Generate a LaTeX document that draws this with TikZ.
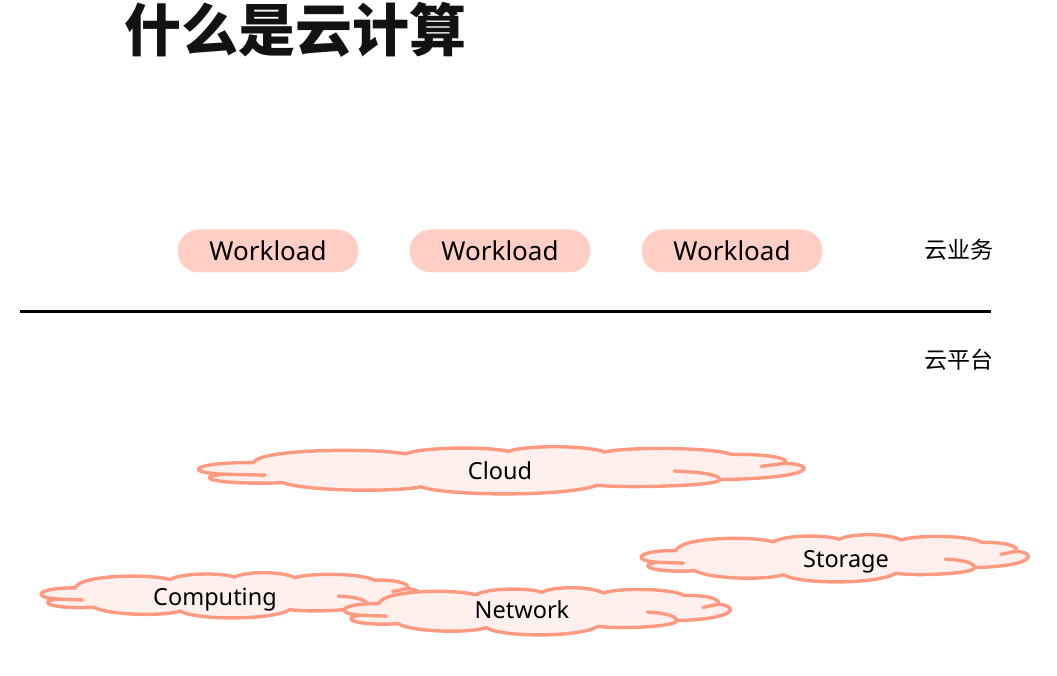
\documentclass[tikz,border=0pt]{standalone}
\usepackage{fontspec}
\setmainfont{Noto Sans}
\newfontfamily\cjk{Noto Sans CJK SC}
\definecolor{cloudline}{HTML}{FF9980}
\definecolor{cloudfill}{HTML}{FFF0EE}
\definecolor{pillfill}{HTML}{FFCEC4}
\tikzset{
  cloudstroke/.style={draw=cloudline, line width=3.4pt, line join=round, line cap=round},
  pill/.style={rectangle, rounded corners=21.5pt, minimum width=181pt, minimum height=43pt, inner sep=0pt, fill=pillfill, font=\fontsize{26}{30}\selectfont, text height=18.6pt, text depth=0pt},
  cloudlabel/.style={font=\fontsize{23.5}{28}\selectfont, inner sep=0pt, text height=16.8pt, text depth=0pt},
  layerlabel/.style={font=\cjk\fontsize{23}{27}\selectfont, inner sep=0pt},
}
\newcommand\mycloud[4]{%
  \begin{scope}[shift={(#1,#2)}, xscale=#3/1530, yscale=#4/153, shift={(-18,-15)}]
    \path[cloudstroke, fill=cloudfill] (160,68) .. controls (180,22) and (470,22) .. (545,40)
      .. controls (590,17) and (760,17) .. (805,32)
      .. controls (850,12) and (1000,12) .. (1050,34)
      .. controls (1100,18) and (1320,18) .. (1370,42)
      .. controls (1450,40) and (1520,52) .. (1505,70)
      .. controls (1590,75) and (1580,118) .. (1340,122)
      .. controls (1345,142) and (1100,150) .. (1030,140)
      .. controls (960,176) and (650,176) .. (585,145)
      .. controls (520,162) and (300,160) .. (235,132)
      .. controls (60,140) and (0,112) .. (90,105)
      .. controls (-25,100) and (10,66) .. (160,68) -- cycle;
    \draw[cloudstroke] (90,105) -- (190,108);
    \draw[cloudstroke] (1225,95) .. controls (1300,98) and (1340,108) .. (1340,122);
    \draw[cloudstroke] (1445,80) -- (1505,70);
  \end{scope}}
\begin{document}
\begin{tikzpicture}[x=1pt, y=-1pt]
  \useasboundingbox (0,0) rectangle (1057,676);
  % title
  \node[font=\cjk\bfseries\fontsize{57}{64}\selectfont, inner sep=0pt, text=black!93] (title) at (295,30) {什么是云计算};
  % workloads
  \node[pill] (w1) at (268,251) {Workload};
  \node[pill] (w2) at (500,251) {Workload};
  \node[pill] (w3) at (732,251) {Workload};
  \node[layerlabel] (biz) at (959,250) {云业务};
  % separator
  \coordinate (sepL) at (20,311);
  \coordinate (sepR) at (991,311);
  \draw[line width=3pt] (sepL) -- (sepR);
  \node[layerlabel] (plat) at (959,360) {云平台};
  % clouds
  \mycloud{197}{446}{605}{48}
  \node[cloudlabel] (cloud) at (500,471) {Cloud};
  \mycloud{640}{534}{387}{48}
  \node[cloudlabel] (storage) at (846,559) {Storage};
  \mycloud{40}{572}{378}{46}
  \node[cloudlabel] (computing) at (215,597) {Computing};
  \mycloud{343}{587}{386}{48}
  \node[cloudlabel] (network) at (522,610) {Network};
\end{tikzpicture}
\end{document}
